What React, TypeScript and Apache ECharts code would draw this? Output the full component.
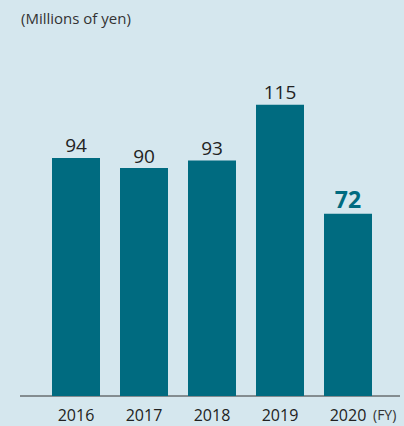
import React, { useEffect, useRef } from "react";
import * as echarts from "echarts";

const categories = ["2016", "2017", "2018", "2019", "2020"];
const values = [94, 90, 93, 115, 72];
const unitLabel = "(Millions of yen)";
const fyLabel = "(FY)";

const BG = "#d5e7ee";
const BAR = "#006b80";
const FONT = "'Open Sans', 'Noto Sans', sans-serif";

export default function App() {
  const ref = useRef<HTMLDivElement>(null);
  useEffect(() => {
    if (!ref.current) return;
    const chart = echarts.init(ref.current, undefined, { renderer: "svg" });
    const last = values.length - 1;
    chart.setOption({
      animation: false,
      backgroundColor: BG,
      grid: { left: 42, right: 22, top: 16.2, bottom: 30 },
      xAxis: {
        type: "category",
        data: categories,
        axisLine: { show: false },
        axisTick: { show: false },
        axisLabel: { color: "#222", fontSize: 16, fontFamily: FONT, margin: 11 },
      },
      yAxis: {
        type: "value",
        min: 0,
        max: 150,
        show: false,
        splitLine: { show: false },
      },
      graphic: [
        {
          type: "line",
          shape: { x1: 20, y1: 396, x2: 400, y2: 396 },
          style: { stroke: "#333", lineWidth: 1 },
        },
        {
          type: "text",
          left: 21,
          top: 10,
          style: { text: unitLabel, fill: "#333", fontSize: 15, fontFamily: FONT },
        },
        {
          type: "text",
          left: 373,
          top: 407,
          style: { text: fyLabel, fill: "#333", fontSize: 14, fontFamily: FONT },
        },
      ],
      series: [
        {
          type: "bar",
          barWidth: 48,
          data: values.map((v, i) => ({
            value: v,
            label:
              i === last
                ? { color: BAR, fontWeight: "bold", fontSize: 23 }
                : { color: "#222", fontSize: 19 },
          })),
          itemStyle: { color: BAR },
          label: {
            show: true,
            position: "top",
            distance: 3,
            fontFamily: FONT,
          },
        },
      ],
    });
    return () => chart.dispose();
  }, []);
  return (
    <div
      ref={ref}
      style={{ position: "fixed", left: 0, top: 0, width: 404, height: 426 }}
    />
  );
}
